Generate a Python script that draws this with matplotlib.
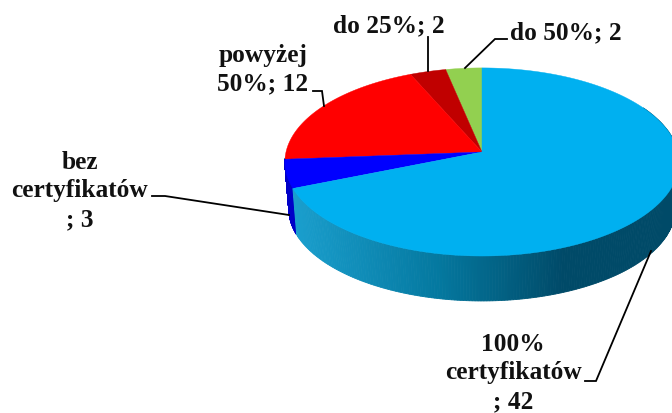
import matplotlib
matplotlib.use('Agg')
import matplotlib.pyplot as plt
import matplotlib.colors as mcolors
import numpy as np

# slices, going anticlockwise from the top of the pie
labels = ['do 50%; 2', 'do 25%; 2', 'powyżej\n50%; 12', 'bez\ncertyfikatów\n; 3', '100%\ncertyfikatów\n; 42']
values = [2, 2, 12, 3, 42]
colors = ['#92d050', '#c00000', '#ff0000', '#0000ff', '#00b0f0']

# pie geometry in pixels, with a bit of perspective
cx, cy = 482, 153
R, k, m = 196, 93, 0.106
depth = 47
shrink = 0.98


def rim(phi, scale=1.0, dy=0):
    s, t = np.sin(phi), np.cos(phi)
    d = 1 + m * t
    return cx - scale * R * s / d, cy + dy - scale * k * t / d


def side_color(x):
    stops_x = [292, 440, 565, 700]
    stops_c = [mcolors.to_rgb(c) for c in ['#1a9fce', '#04789f', '#004a68', '#004a68']]
    return [np.interp(x, stops_x, [c[i] for c in stops_c]) for i in range(3)]


fig = plt.figure(figsize=(6.72, 4.14), dpi=100)
ax = fig.add_axes([0, 0, 1, 1])
ax.set_xlim(0, 672)
ax.set_ylim(414, 0)
ax.axis('off')

edges = np.radians(np.concatenate([[0], np.cumsum(values)]) / sum(values) * 360)

# side wall, only the part facing the viewer
for i in range(len(values)):
    a = max(edges[i], np.radians(94))
    b = min(edges[i + 1], np.radians(300))
    if b <= a:
        continue
    phis = np.linspace(a, b, 240)
    for p0, p1 in zip(phis[:-1], phis[1:]):
        x0, y0 = rim(p0)
        x1, y1 = rim(p1)
        x2, y2 = rim(p1, shrink, depth)
        x3, y3 = rim(p0, shrink, depth)
        c = '#0000c8' if i == 3 else side_color((x0 + x1) / 2)
        ax.fill([x0, x1, x2, x3], [y0, y1, y2, y3], color=c, lw=0.6)

# top face
for i in range(len(values)):
    phis = np.linspace(edges[i], edges[i + 1], 200)
    xs, ys = rim(phis)
    ax.fill(np.r_[cx, xs], np.r_[cy, ys], color=colors[i], lw=0.3)

# leader lines
leaders = [
    ([507, 495, 465], [40, 40, 69]),
    ([428, 428], [38, 72]),
    ([313, 322, 324], [92, 92, 107]),
    ([152, 165, 289], [197, 197, 216]),
    ([585, 596, 651], [382, 382, 252]),
]
for lx, ly in leaders:
    ax.plot(lx, ly, color='black', lw=1.3, solid_joinstyle='miter')

# data labels
label_pos = [(566, 33), (389, 26), (263, 70), (80, 191), (513, 373)]
for lab, (x, y) in zip(labels, label_pos):
    ax.text(x, y, lab, ha='center', va='center', family='Liberation Serif',
            fontweight='bold', fontsize=18.3, color='#111111', linespacing=1.3)

fig.savefig('out.png', dpi=100)
